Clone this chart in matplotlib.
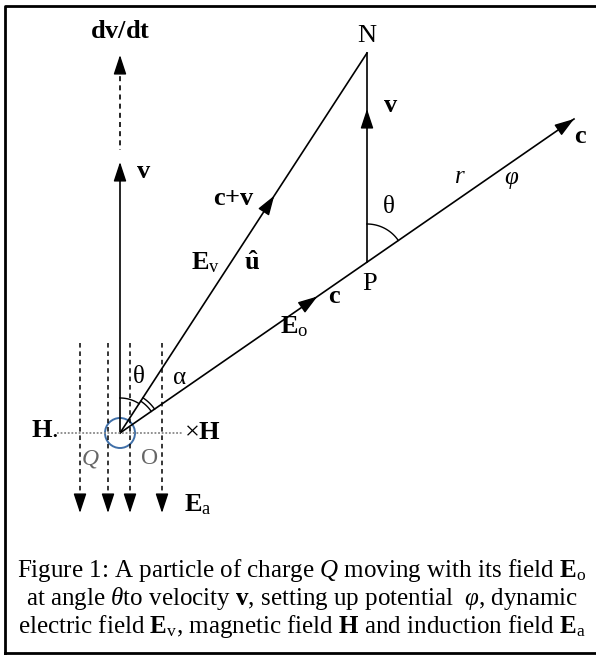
import numpy as np
import matplotlib
matplotlib.use("Agg")
import matplotlib.pyplot as plt

plt.rcParams['font.family'] = ['Liberation Serif', 'DejaVu Serif']
plt.rcParams['mathtext.fontset'] = 'custom'
plt.rcParams['mathtext.rm'] = 'Liberation Serif'
plt.rcParams['mathtext.it'] = 'Liberation Serif:italic'
plt.rcParams['mathtext.bf'] = 'Liberation Serif:bold'

# diagram points (pixel coords, y down)
origin = (120, 433)
point_N = (367, 53)
point_P = (367, 262)
tip_c = (574, 119)
v_tip = (120, 162)
dvdt_tip = (120, 55)
dvdt_dash = (67, 150)            # dashed part of dv/dt, y from / to
field_x = [80, 108, 130, 162]     # dashed E_a lines
field_y = (343, 513)
h_line_x = (57, 182)
cv_head = 283                     # distance of c+v arrowhead along O->N
c_head = 240                      # distance of lower c arrowhead along O->c
pv_head = 109                     # y of v arrowhead on P->N

# (x, y, text, size, colour, ha)
labels = [
    (120, 32, r"$\mathbf{dv/dt}$", 19, 'k', 'center'),
    (136, 172, r"$\mathbf{v}$", 19, 'k', 'left'),
    (367, 36, "N", 19, 'k', 'center'),
    (383, 106, r"$\mathbf{v}$", 19, 'k', 'left'),
    (234, 199, r"$\mathbf{c{+}v}$", 19, 'k', 'center'),
    (206, 263, r"$\mathbf{E}_{\mathrm{v}}$", 19, 'k', 'center'),
    (252, 263, r"$\mathbf{\hat{u}}$", 19, 'k', 'center'),
    (580, 137, r"$\mathbf{c}$", 19, 'k', 'center'),
    (334, 297, r"$\mathbf{c}$", 19, 'k', 'center'),
    (294, 327, r"$\mathbf{E}_{\mathrm{o}}$", 19, 'k', 'center'),
    (370, 284, "P", 19, 'k', 'center'),
    (388, 207, r"$\mathrm{\theta}$", 18, 'k', 'center'),
    (460, 177, r"$r$", 18, 'k', 'center'),
    (512, 180, r"$\varphi$", 18, 'k', 'center'),
    (138, 377, r"$\mathrm{\theta}$", 18, 'k', 'center'),
    (179, 378, r"$\mathrm{\alpha}$", 18, 'k', 'center'),
    (58, 431, r"$\mathbf{H}$.", 19, 'k', 'right'),
    (184, 433, r"$\times\mathbf{H}$", 19, 'k', 'left'),
    (90, 459, r"$Q$", 17, '#666666', 'center'),
    (150, 459, "O", 17, '#666666', 'center'),
    (184, 505, r"$\mathbf{E}_{\mathrm{a}}$", 19, 'k', 'left'),
]

caption = [
    r"Figure 1: A particle of charge $Q$ moving with its field $\mathbf{E}_{\mathrm{o}}$",
    r"at angle $\theta$to velocity $\mathbf{v}$, setting up potential  $\varphi$, dynamic",
    r"electric field $\mathbf{E}_{\mathrm{v}}$, magnetic field $\mathbf{H}$ and induction field $\mathbf{E}_{\mathrm{a}}$",
]
caption_y = [570, 598, 626]

fig = plt.figure(figsize=(5.96, 6.56), dpi=100)
ax = fig.add_axes([0, 0, 1, 1])
ax.set_xlim(0, 596)
ax.set_ylim(656, 0)
ax.axis('off')


def head(tip, direction, scale=12):
    d = np.asarray(direction, float)
    d = d / np.hypot(*d)
    frm = np.asarray(tip, float) - d * 12
    ax.annotate('', xy=tuple(tip), xytext=tuple(frm),
                arrowprops=dict(arrowstyle='-|>,head_length=1.0,head_width=0.33',
                                color='k', lw=1.0, shrinkA=0, shrinkB=0,
                                mutation_scale=scale))


def arc(center, r, a0, a1):
    a = np.radians(np.linspace(a0, a1, 40))
    ax.plot(center[0] + r * np.cos(a), center[1] - r * np.sin(a), 'k-', lw=1.0)


def angle_of(p, q):
    return np.degrees(np.arctan2(-(q[1] - p[1]), q[0] - p[0]))


# border
ax.plot([5, 5, 600, 600, 5], [653, 6, 6, 653, 653], 'k-', lw=2.0, clip_on=False)

# velocity and its derivative
ax.plot([origin[0], v_tip[0]], [origin[1], v_tip[1] + 8], 'k-', lw=1.2)
head(v_tip, (0, -1))
ax.plot([dvdt_tip[0]] * 2, dvdt_dash, 'k', ls=(0, (3, 2.5)), lw=1.2)
head(dvdt_tip, (0, -1))

# lines to N and to c
ax.plot([origin[0], point_N[0]], [origin[1], point_N[1]], 'k-', lw=1.2)
ax.plot([origin[0], tip_c[0]], [origin[1], tip_c[1]], 'k-', lw=1.2)
ax.plot([point_P[0], point_N[0]], [point_P[1], point_N[1]], 'k-', lw=1.2)

dn = np.subtract(point_N, origin)
dn = dn / np.hypot(*dn)
dc = np.subtract(tip_c, origin)
dc = dc / np.hypot(*dc)
head(np.add(origin, dn * cv_head), dn)
head(tip_c, dc)
head(np.add(origin, dc * c_head), dc)
head((point_P[0], pv_head), (0, -1))

# angles
a_c = angle_of(origin, tip_c)
a_n = angle_of(origin, point_N)
arc(point_P, 38, a_c, 90)
arc(origin, 35, a_n, 90)
arc(origin, 38, a_c, a_n)
arc(origin, 42, a_c, a_n)

# charge and fields
ax.add_patch(plt.Circle(origin, 15, fill=False, ec='#3f6fa8', lw=1.4))
ax.plot(h_line_x, [origin[1]] * 2, color='#888888', ls=(0, (1, 1)), lw=1.3)
for x in field_x:
    ax.plot([x, x], [field_y[0], field_y[1] - 10], 'k', ls=(0, (3, 2.5)), lw=1.1)
    head((x, field_y[1]), (0, 1))

for x, y, s, size, col, ha in labels:
    ax.text(x, y, s, fontsize=size, color=col, ha=ha, va='center')

for s, y in zip(caption, caption_y):
    ax.text(302, y, s, fontsize=18, ha='center', va='center')

fig.savefig("out.png", dpi=100)
